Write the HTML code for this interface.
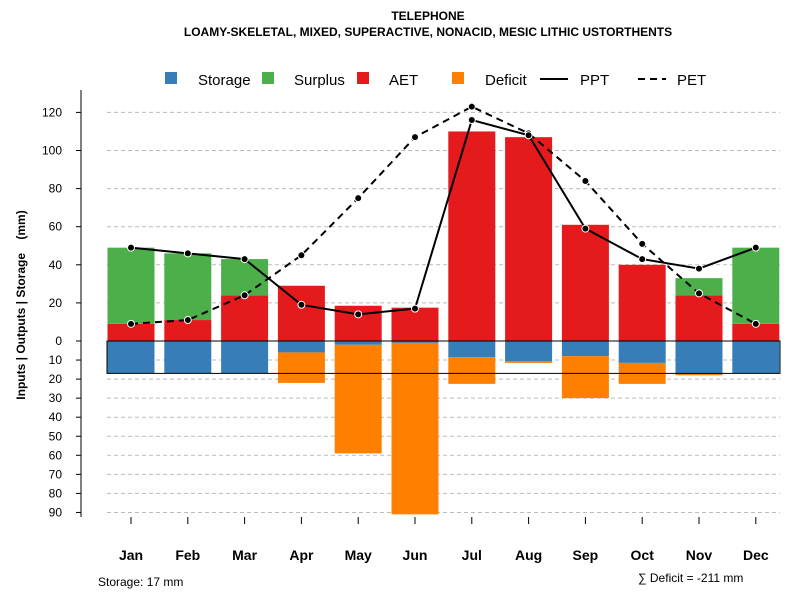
<!DOCTYPE html>
<html><head><meta charset="utf-8"><style>
body{margin:0;background:#fff;font-family:"Liberation Sans",sans-serif}
svg text{font-family:"Liberation Sans",sans-serif}
</style></head><body>
<svg id="c" width="800" height="600" xmlns="http://www.w3.org/2000/svg">
<text x="428" y="20" text-anchor="middle" font-size="12" font-weight="bold">TELEPHONE</text>
<text x="428" y="36" text-anchor="middle" font-size="12" font-weight="bold">LOAMY-SKELETAL, MIXED, SUPERACTIVE, NONACID, MESIC LITHIC USTORTHENTS</text>
<g id="grid"></g>
<g id="bars"></g>
<g id="lines"></g>
<g id="axes"></g>
<g font-size="15">
<rect x="165" y="72" width="12" height="12" fill="#377eb8"/><text x="198" y="85">Storage</text>
<rect x="262" y="72" width="12" height="12" fill="#4daf4a"/><text x="294" y="85">Surplus</text>
<rect x="357" y="72" width="12" height="12" fill="#e41a1c"/><text x="389" y="85">AET</text>
<rect x="452" y="72" width="12" height="12" fill="#ff7f00"/><text x="485" y="85">Deficit</text>
<line x1="540" y1="79" x2="568" y2="79" stroke="#000" stroke-width="2"/><text x="580" y="85">PPT</text>
<line x1="638" y1="79" x2="666" y2="79" stroke="#000" stroke-width="2" stroke-dasharray="7,5"/><text x="677" y="85">PET</text>
</g>
<text x="25" y="305" transform="rotate(-90 25 305)" text-anchor="middle" font-size="12" font-weight="bold">Inputs | Outputs | Storage&#160;&#160;&#160;&#160;(mm)</text>
<text x="98" y="586" font-size="12">Storage: 17 mm</text>
<text x="638" y="582" font-size="12">∑ Deficit = -211 mm</text>
</svg>
<script>
const months=["Jan","Feb","Mar","Apr","May","Jun","Jul","Aug","Sep","Oct","Nov","Dec"];
const aet=[9,11,24,29,18.5,17.5,110,107,61,40,24,9];
const surplus=[40,35,19,0,0,0,0,0,0,0,9,40];
const storage=[17,17,17,6,2,1,8.5,10.5,8,11.5,17,17];
const deficit=[0,0,0,16,57,90,14,1,22,11,1,0];
const ppt=[49,46,43,19,14,17,116,108,59,43,38,49];
const pet=[9,11,24,45,75,107,123,109,84,51,25,9];
const storageCap=17;
const upTicks=[0,20,40,60,80,100,120];
const downTicks=[10,20,30,40,50,60,70,80,90];
const y0=341,k=1.905;
const yUp=v=>y0-v*k, yDn=v=>y0+v*k;
const x=i=>131+i*56.8;
const NS="http://www.w3.org/2000/svg";
function mk(p,t,a){const e=document.createElementNS(NS,t);for(const q in a)e.setAttribute(q,a[q]);document.getElementById(p).appendChild(e);return e;}
upTicks.forEach(v=>{if(v>0){const g=mk("grid","line",{x1:107,x2:780,y1:yUp(v),y2:yUp(v),stroke:"#bbb","stroke-dasharray":"4,3"});

}
const t=mk("axes","text",{x:62,y:yUp(v)+4,"text-anchor":"end","font-size":12});t.textContent=v;


mk("axes","line",{x1:76,x2:81,y1:yUp(v),y2:yUp(v),stroke:"#000"});});
downTicks.forEach(v=>{const g=mk("grid","line",{x1:107,x2:780,y1:yDn(v),y2:yDn(v),stroke:"#bbb","stroke-dasharray":"4,3"});


const t=mk("axes","text",{x:62,y:yDn(v)+4,"text-anchor":"end","font-size":12});t.textContent=v;


mk("axes","line",{x1:76,x2:81,y1:yDn(v),y2:yDn(v),stroke:"#000"});});
mk("axes","line",{x1:81,x2:81,y1:90,y2:517,stroke:"#000"});
const bw=47;
months.forEach((m,i)=>{
 const xl=x(i)-bw/2;
 let r=mk("bars","rect",{x:xl,y:yUp(aet[i]),width:bw,height:aet[i]*k,fill:"#e41a1c"});
 
 
 if(surplus[i]>0){r=mk("bars","rect",{x:xl,y:yUp(aet[i]+surplus[i]),width:bw,height:surplus[i]*k,fill:"#4daf4a"});
 
 }
 r=mk("bars","rect",{x:xl,y:y0,width:bw,height:storage[i]*k,fill:"#377eb8"});
 
 
 if(deficit[i]>0){r=mk("bars","rect",{x:xl,y:yDn(storage[i]),width:bw,height:deficit[i]*k,fill:"#ff7f00"});
 
 }
 mk("axes","line",{x1:x(i),x2:x(i),y1:517,y2:524,stroke:"#000"});
 const t=mk("axes","text",{x:x(i),y:560,"text-anchor":"middle","font-size":14,"font-weight":"bold"});t.textContent=m;
 
 
});
const box=mk("bars","rect",{x:107,y:y0,width:673,height:storageCap*k,fill:"none",stroke:"#000"});


function line(arr,name,dash){
 const p=mk("lines","polyline",{points:arr.map((v,i)=>x(i)+","+yUp(v)).join(" "),fill:"none",stroke:"#000","stroke-width":2,"stroke-dasharray":dash});
 
 
 arr.forEach((v,i)=>{const c=mk("lines","circle",{cx:x(i),cy:yUp(v),r:3.5,fill:"#000",stroke:"#fff","stroke-width":1});
 
 });
}
line(pet,"pet","7,5");
line(ppt,"ppt","none");
</script>
</body></html>
